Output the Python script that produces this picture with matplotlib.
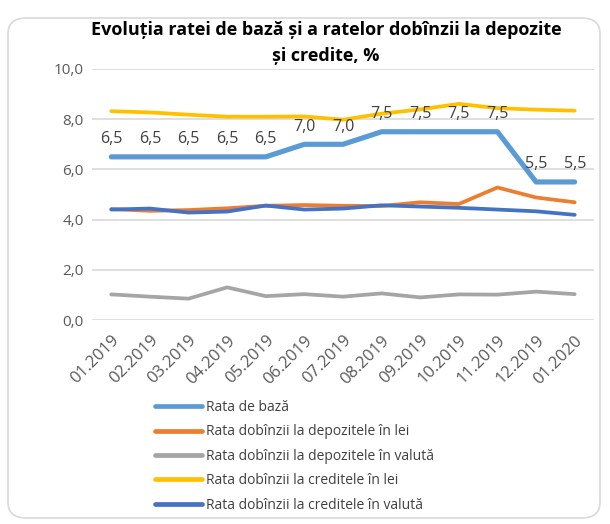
import matplotlib
matplotlib.use("Agg")
import matplotlib.pyplot as plt
from matplotlib.patches import FancyBboxPatch

plt.rcParams['font.family'] = ['Open Sans', 'DejaVu Sans']

months = ["01.2019", "02.2019", "03.2019", "04.2019", "05.2019", "06.2019", "07.2019",
          "08.2019", "09.2019", "10.2019", "11.2019", "12.2019", "01.2020"]
rata_baza = [6.5, 6.5, 6.5, 6.5, 6.5, 7.0, 7.0, 7.5, 7.5, 7.5, 7.5, 5.5, 5.5]
dep_lei = [4.42, 4.35, 4.38, 4.45, 4.55, 4.58, 4.55, 4.54, 4.69, 4.62, 5.28, 4.88, 4.69]
dep_valuta = [1.02, 0.93, 0.85, 1.30, 0.95, 1.03, 0.93, 1.06, 0.90, 1.02, 1.01, 1.13, 1.03]
cred_lei = [8.32, 8.27, 8.18, 8.10, 8.10, 8.11, 7.98, 8.22, 8.39, 8.61, 8.44, 8.38, 8.34]
cred_valuta = [4.40, 4.44, 4.28, 4.32, 4.56, 4.40, 4.44, 4.57, 4.52, 4.47, 4.40, 4.33, 4.19]

names = ["Rata de bază", "Rata dobînzii la depozitele în lei", "Rata dobînzii la depozitele în valută",
         "Rata dobînzii la creditele în lei", "Rata dobînzii la creditele în valută"]
colors = ["#5B9BD5", "#ED7D31", "#A5A5A5", "#FFC000", "#4472C4"]

W, H = 610, 524
fig = plt.figure(figsize=(W / 100, H / 100), dpi=100)
fig.patch.set_facecolor("white")

# rounded frame
frame = FancyBboxPatch((8 / W, 6 / H), 592 / W, 500 / H,
                       boxstyle="round,pad=0,rounding_size=0.03",
                       transform=fig.transFigure, facecolor="white",
                       edgecolor="#D9D9D9", linewidth=1.2, zorder=-10)
fig.patches.append(frame)

ax = fig.add_axes([92 / W, 1 - 320 / H, (594 - 92) / W, (320 - 69) / H])
ax.set_zorder(2)
ax.set_facecolor("none")
x = list(range(len(months)))
series = [rata_baza, dep_lei, dep_valuta, cred_lei, cred_valuta]
lws = [3.7, 2.7, 2.7, 2.7, 2.7]
zorders = [5, 3, 3, 3, 4]
handles = []
for s, c, n, lw, z in zip(series, colors, names, lws, zorders):
    h, = ax.plot(x, s, color=c, lw=lw, label=n, zorder=z,
                 solid_capstyle="round", solid_joinstyle="round")
    handles.append(h)

for xi, v in zip(x, rata_baza):
    ax.annotate(f"{v:.1f}".replace(".", ","), (xi, v), xytext=(0, 7),
                textcoords="offset points", ha="center", va="bottom",
                fontsize=11.5, color="#404040", zorder=6)

ax.set_xlim(-0.5, len(months) - 0.5)
ax.set_ylim(0, 10)
ax.set_yticks([0, 2, 4, 6, 8, 10])
ax.set_yticklabels([f"{v:.1f}".replace(".", ",") for v in [0, 2, 4, 6, 8, 10]],
                   fontsize=11, color="#595959")
ax.set_xticks(x)
ax.set_xticklabels(months, rotation=45, ha="right", rotation_mode="anchor",
                   fontsize=12, color="#595959")
ax.tick_params(axis="both", length=0, pad=6)
ax.tick_params(axis="x", pad=9)
ax.grid(axis="y", color="#D9D9D9", lw=1.2)
ax.set_axisbelow(True)
for sp in ax.spines.values():
    sp.set_visible(False)

fig.text(326 / W, 1 - 30 / H, "Evoluția ratei de bază și a ratelor dobînzii la depozite",
         ha="center", va="center", fontsize=13, fontweight="bold", color="black")
fig.text(326 / W, 1 - 56 / H, "și credite, %",
         ha="center", va="center", fontsize=13, fontweight="bold", color="black")

leg = fig.legend(handles=handles, loc="upper left", bbox_to_anchor=(155 / W, 1 - 400 / H),
                 frameon=False, fontsize=10, handlelength=3.4, handletextpad=0.25,
                 labelspacing=0.68, labelcolor="#404040", borderaxespad=0, borderpad=0)
for lh in leg.get_lines():
    lh.set_linewidth(3.4)
    lh.set_solid_capstyle("round")

fig.savefig("out.png", dpi=100, facecolor="white")
